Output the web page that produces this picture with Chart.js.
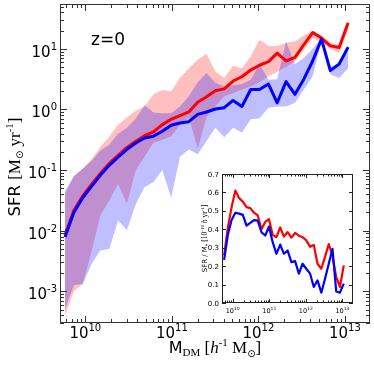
<!DOCTYPE html>
<html>
<head>
<meta charset="utf-8">
<script src="https://cdn.jsdelivr.net/npm/chart.js@4.4.0/dist/chart.umd.min.js"></script>
<style>
  body { margin: 0; background: #fff; }
  #wrap { position: relative; width: 374px; height: 369px; }
  #mainChart { position: absolute; left: 0; top: 0; }
  #insetChart { position: absolute; left: 180px; top: 160px; }
</style>
</head>
<body>
<div id="wrap">
  <canvas id="mainChart" width="374" height="369"></canvas>
  <canvas id="insetChart" width="194" height="170"></canvas>
</div>
<script>
// halo mass bins [h^-1 Msun]
const massBins = [5.83e9, 7.37e9, 9.33e9, 1.18e10, 1.49e10, 1.89e10, 2.39e10, 3.03e10, 3.83e10, 4.84e10,
  6.13e10, 7.76e10, 9.82e10, 1.24e11, 1.57e11, 1.99e11, 2.52e11, 3.18e11, 4.03e11, 5.10e11,
  6.45e11, 8.16e11, 1.03e12, 1.31e12, 1.65e12, 2.09e12, 2.65e12, 3.35e12, 4.24e12, 5.36e12,
  6.78e12, 8.58e12, 1.09e13];

// median SFR [Msun/yr]
const sfrRed = [0.0085, 0.0215, 0.0375, 0.058, 0.088, 0.129, 0.175, 0.236, 0.30, 0.37,
  0.427, 0.562, 0.69, 0.79, 0.91, 1.32, 1.62, 2.04, 2.19, 2.95,
  3.47, 4.47, 5.37, 6.17, 8.51, 6.31, 7.24, 11.7, 18.6, 15.1,
  11.2, 10.5, 26.9];
const sfrBlue = [0.0079, 0.020, 0.035, 0.054, 0.082, 0.12, 0.163, 0.22, 0.28, 0.339,
  0.363, 0.437, 0.55, 0.60, 0.63, 0.83, 0.91, 1.02, 1.07, 1.41,
  1.12, 2.14, 2.14, 2.63, 1.29, 2.88, 1.78, 3.16, 6.31, 14.5,
  4.37, 5.62, 10.7];

// scatter bands
const redHi = [0.040, 0.079, 0.105, 0.151, 0.24, 0.355, 0.56, 0.74, 0.95, 1.12,
  1.78, 2.09, 2.0, 3.31, 4.79, 6.61, 8.32, 4.27, 3.31, 5.25,
  4.79, 7.59, 14.1, 11.2, 11.2, 12.6, 13.2, 16.6, 20.0, 16.6,
  12.6, 11.5, 28.2];
const redLo = [0.0004, 0.001, 0.00132, 0.0045, 0.0178, 0.0316, 0.059, 0.028, 0.100, 0.166,
  0.282, 0.316, 0.363, 0.56, 0.76, 0.224, 0.76, 1.12, 1.66, 1.86,
  2.14, 2.40, 2.82, 3.55, 4.17, 5.01, 6.31, 9.55, 15.1, 12.6,
  10.0, 8.51, 20.9];
const blueHi = [0.045, 0.079, 0.105, 0.141, 0.209, 0.263, 0.398, 0.50, 0.71, 1.17,
  0.89, 0.87, 0.87, 1.12, 1.66, 2.82, 3.98, 2.75, 2.4, 2.5,
  2.63, 3.09, 5.62, 3.09, 3.16, 13.2, 5.6, 7.1, 10.0, 14.5,
  5.01, 5.75, 11.0];
const blueLo = [0.0005, 0.00126, 0.00132, 0.0028, 0.0047, 0.0050, 0.0148, 0.0102, 0.0275, 0.0525,
  0.063, 0.100, 0.035, 0.166, 0.219, 0.182, 0.302, 0.50, 0.347, 0.50,
  0.417, 0.69, 0.72, 1.07, 1.12, 1.12, 1.29, 2.14, 3.55, 13.2,
  3.8, 3.31, 4.79];

// inset: SFR / M* [1e-10 h/yr]
const ratioRed = [0.258, 0.41, 0.52, 0.61, 0.57, 0.55, 0.52, 0.515, 0.49, 0.475,
  0.40, 0.44, 0.455, 0.37, 0.357, 0.41, 0.36, 0.385, 0.355, 0.38,
  0.365, 0.357, 0.34, 0.305, 0.315, 0.213, 0.186, 0.25, 0.32, 0.255,
  0.14, 0.087, 0.204];
const ratioBlue = [0.234, 0.37, 0.45, 0.49, 0.485, 0.478, 0.42, 0.435, 0.45, 0.447,
  0.384, 0.366, 0.415, 0.33, 0.267, 0.317, 0.267, 0.285, 0.222, 0.227,
  0.159, 0.213, 0.186, 0.159, 0.087, 0.123, 0.056, 0.132, 0.213, 0.294,
  0.063, 0.056, 0.105];

const xExps = [10, 11, 12, 13];
const yExps = [-3, -2, -1, 0, 1];
const insetYTicks = [0.0, 0.1, 0.2, 0.3, 0.4, 0.5, 0.6, 0.7];

const toPoints = (arr) => massBins.map((m, i) => ({ x: m, y: arr[i] }));

// draw a row of text pieces (for sub/superscripts)
function drawPieces(ctx, pieces, x, y, align) {
  let total = 0;
  pieces.forEach((p) => { ctx.font = p.font; p.w = ctx.measureText(p.text).width; total += p.w; });
  let cx = align === "center" ? x - total / 2 : align === "right" ? x - total : x;
  ctx.textAlign = "left";
  ctx.textBaseline = "alphabetic";
  pieces.forEach((p) => { ctx.font = p.font; ctx.fillText(p.text, cx, y + (p.dy || 0)); cx += p.w; });
}

function logTicks(min, max) {
  const out = [];
  for (let e = Math.floor(Math.log10(min)); e <= Math.ceil(Math.log10(max)); e++) {
    for (let k = 1; k < 10; k++) {
      const v = k * Math.pow(10, e);
      if (v >= min && v <= max) out.push({ v: v, major: k === 1 });
    }
  }
  return out;
}

const SANS = "DejaVu Sans";
const SERIF = "Liberation Serif";

const mainAxes = {
  id: "mainAxes",
  beforeDraw(chart) {
    const ctx = chart.ctx;
    ctx.save();
    ctx.fillStyle = "#fff";
    ctx.fillRect(0, 0, chart.width, chart.height);
    ctx.restore();
  },
  afterDraw(chart) {
    const { ctx, chartArea: a, scales } = chart;
    const x = scales.x, y = scales.y;
    ctx.save();
    ctx.strokeStyle = "#333";
    ctx.lineWidth = 1;
    ctx.strokeRect(a.left + 0.5, a.top + 0.5, a.right - a.left - 1, a.bottom - a.top - 1);

    ctx.beginPath();
    logTicks(x.min, x.max).forEach((t) => {
      const px = Math.round(x.getPixelForValue(t.v)) + 0.5;
      const len = t.major ? 7 : 4;
      ctx.moveTo(px, a.bottom); ctx.lineTo(px, a.bottom - len);
      ctx.moveTo(px, a.top); ctx.lineTo(px, a.top + len);
    });
    logTicks(y.min, y.max).forEach((t) => {
      const py = Math.round(y.getPixelForValue(t.v)) + 0.5;
      const len = t.major ? 7 : 4;
      ctx.moveTo(a.left, py); ctx.lineTo(a.left + len, py);
      ctx.moveTo(a.right, py); ctx.lineTo(a.right - len, py);
    });
    ctx.stroke();

    ctx.fillStyle = "#000";
    xExps.forEach((e) => {
      const px = x.getPixelForValue(Math.pow(10, e));
      drawPieces(ctx, [
        { text: "10", font: "15px " + SANS },
        { text: String(e), font: "10px " + SANS, dy: -7 },
      ], px, a.bottom + 15, "center");
    });
    yExps.forEach((e) => {
      const py = y.getPixelForValue(Math.pow(10, e));
      drawPieces(ctx, [
        { text: "10", font: "15px " + SANS },
        { text: String(e), font: "10px " + SANS, dy: -7 },
      ], a.left - 3, py + 8, "right");
    });

    // axis titles
    drawPieces(ctx, [
      { text: "M", font: "16px " + SANS },
      { text: "DM", font: "11px " + SERIF, dy: 3 },
      { text: " [", font: "17px " + SERIF },
      { text: "h", font: "italic 17px " + SERIF },
      { text: "-1", font: "11px " + SERIF, dy: -7 },
      { text: " M", font: "17px " + SERIF },
      { text: "\u2299", font: "10px " + SANS, dy: 4 },
      { text: "]", font: "17px " + SERIF },
    ], 215, 353, "center");

    ctx.save();
    ctx.translate(19.5, 167);
    ctx.rotate(-Math.PI / 2);
    drawPieces(ctx, [
      { text: "SFR ", font: "16.5px " + SANS },
      { text: "[M", font: "17px " + SERIF },
      { text: "\u2299", font: "10px " + SANS, dy: 3 },
      { text: " yr", font: "17px " + SERIF },
      { text: "-1", font: "11px " + SERIF, dy: -7 },
      { text: "]", font: "17px " + SERIF },
    ], 0, 0, "center");
    ctx.restore();

    ctx.font = "17px " + SANS;
    ctx.textAlign = "left";
    ctx.fillText("z=0", 91, 45);
    ctx.restore();
  },
};

const insetAxes = {
  id: "insetAxes",
  beforeDatasetsDraw(chart) {
    const { ctx, chartArea: a } = chart;
    ctx.save();
    ctx.fillStyle = "#fff";
    ctx.fillRect(a.left, a.top, a.right - a.left, a.bottom - a.top);
    ctx.restore();
  },
  afterDraw(chart) {
    const { ctx, chartArea: a, scales } = chart;
    const x = scales.x, y = scales.y;
    ctx.save();
    ctx.strokeStyle = "#222";
    ctx.lineWidth = 1;
    ctx.strokeRect(a.left + 0.5, a.top + 0.5, a.right - a.left - 1, a.bottom - a.top - 1);
    ctx.beginPath();
    logTicks(x.min, x.max).forEach((t) => {
      const px = Math.round(x.getPixelForValue(t.v)) + 0.5;
      const len = t.major ? 4 : 2.5;
      ctx.moveTo(px, a.bottom); ctx.lineTo(px, a.bottom - len);
      ctx.moveTo(px, a.top); ctx.lineTo(px, a.top + len);
    });
    insetYTicks.forEach((v) => {
      const py = Math.round(y.getPixelForValue(v)) + 0.5;
      ctx.moveTo(a.left, py); ctx.lineTo(a.left + 4, py);
      ctx.moveTo(a.right, py); ctx.lineTo(a.right - 4, py);
    });
    ctx.stroke();

    ctx.fillStyle = "#000";
    insetYTicks.forEach((v) => {
      const py = y.getPixelForValue(v);
      drawPieces(ctx, [{ text: v.toFixed(1), font: "7px " + SANS }], a.left - 3, py + 2.5, "right");
    });
    xExps.forEach((e) => {
      const px = x.getPixelForValue(Math.pow(10, e));
      drawPieces(ctx, [
        { text: "10", font: "6.5px " + SANS },
        { text: String(e), font: "4.5px " + SANS, dy: -3 },
      ], px, a.bottom + 10, "center");
    });

    ctx.save();
    ctx.translate(a.left - 15, (a.top + a.bottom) / 2);
    ctx.rotate(-Math.PI / 2);
    drawPieces(ctx, [
      { text: "SFR / M", font: "7px " + SANS },
      { text: "*", font: "5px " + SANS, dy: 2 },
      { text: " [10", font: "7.5px " + SERIF },
      { text: "-10", font: "5px " + SERIF, dy: -3 },
      { text: " h", font: "italic 7.5px " + SERIF },
      { text: " yr", font: "7.5px " + SERIF },
      { text: "-1", font: "5px " + SERIF, dy: -3 },
      { text: "]", font: "7.5px " + SERIF },
    ], 0, 0, "center");
    ctx.restore();
    ctx.restore();
  },
};

const xRange = { min: 5.1e9, max: 1.95e13 };

new Chart(document.getElementById("mainChart"), {
  type: "line",
  data: {
    datasets: [
      { label: "blue", data: toPoints(sfrBlue), borderColor: "#0000ff", borderWidth: 3, order: 0 },
      { label: "red", data: toPoints(sfrRed), borderColor: "#ff0000", borderWidth: 3, order: 1 },
      { label: "blue hi", data: toPoints(blueHi), fill: "+1", backgroundColor: "rgba(0,0,255,0.25)",
        borderColor: "rgba(0,0,0,0)", borderWidth: 0, order: 2 },
      { label: "blue lo", data: toPoints(blueLo), borderColor: "rgba(0,0,0,0)", borderWidth: 0, order: 2 },
      { label: "red hi", data: toPoints(redHi), fill: "+1", backgroundColor: "rgba(255,0,0,0.25)",
        borderColor: "rgba(0,0,0,0)", borderWidth: 0, order: 3 },
      { label: "red lo", data: toPoints(redLo), borderColor: "rgba(0,0,0,0)", borderWidth: 0, order: 3 },
    ],
  },
  options: {
    responsive: false,
    animation: false,
    layout: { padding: { left: 60, top: 4, right: 4, bottom: 46 } },
    elements: { point: { radius: 0 }, line: { tension: 0, borderJoinStyle: "round" } },
    scales: {
      x: { type: "logarithmic", min: xRange.min, max: xRange.max, display: false },
      y: { type: "logarithmic", min: 3.2e-4, max: 55, display: false },
    },
    plugins: { legend: { display: false }, tooltip: { enabled: false } },
  },
  plugins: [mainAxes],
});

new Chart(document.getElementById("insetChart"), {
  type: "line",
  data: {
    datasets: [
      { label: "blue", data: toPoints(ratioBlue), borderColor: "#0000ff", borderWidth: 2.2, order: 0 },
      { label: "red", data: toPoints(ratioRed), borderColor: "#ff0000", borderWidth: 2.2, order: 1 },
    ],
  },
  options: {
    responsive: false,
    animation: false,
    layout: { padding: { left: 42, top: 14, right: 21, bottom: 27 } },
    elements: { point: { radius: 0 }, line: { tension: 0, borderJoinStyle: "round" } },
    scales: {
      x: { type: "logarithmic", min: xRange.min, max: xRange.max, display: false },
      y: { type: "linear", min: 0, max: 0.7, display: false },
    },
    plugins: { legend: { display: false }, tooltip: { enabled: false } },
  },
  plugins: [insetAxes],
});
</script>
</body>
</html>
